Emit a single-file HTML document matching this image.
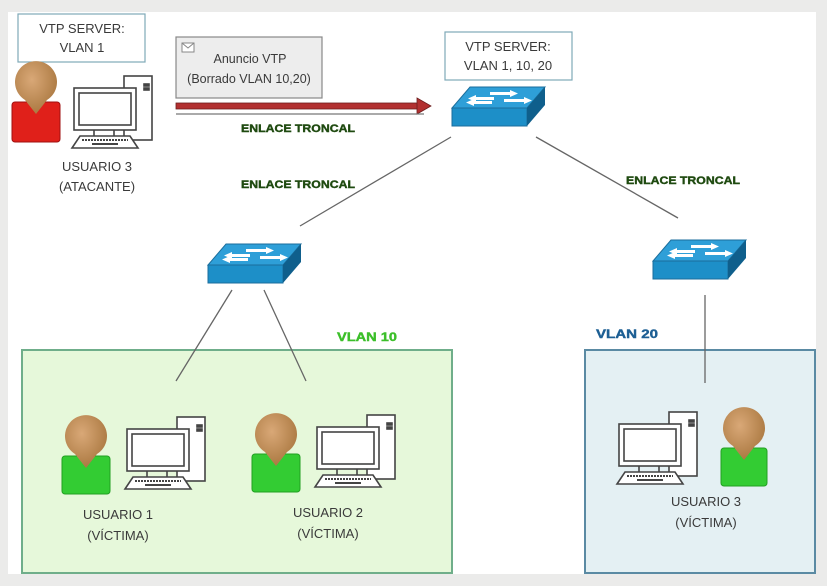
<!DOCTYPE html>
<html><head><meta charset="utf-8"><style>
html,body{margin:0;padding:0;background:#ebebea;}
svg{display:block;font-family:"Liberation Sans",sans-serif;}
.t{font-size:13px;fill:#3a3a3a;text-anchor:middle;}
.e{font-size:11px;font-weight:900;fill:#1f4a10;stroke:#1f4a10;stroke-width:0.4;}
</style></head><body>
<svg width="827" height="586" viewBox="0 0 827 586" xmlns="http://www.w3.org/2000/svg">
<defs>
<g id="pc" fill="#fff" stroke="#444" stroke-width="1.6">
<rect x="52" y="0" width="28" height="64"/>
<rect x="72" y="8" width="5" height="2" fill="#444"/>
<rect x="72" y="12" width="5" height="2" fill="#444"/>
<rect x="2" y="12" width="62" height="42"/>
<rect x="7" y="17" width="52" height="32"/>
<line x1="22" y1="54" x2="22" y2="60"/><line x1="42" y1="54" x2="42" y2="60"/>
<polygon points="8,60 58,60 66,72 0,72"/>
<line x1="10" y1="64" x2="56" y2="64" stroke-dasharray="2 1" stroke-width="2"/>
<line x1="20" y1="68" x2="46" y2="68" stroke-width="2"/>
</g>
<radialGradient id="hd" cx="0.4" cy="0.35" r="0.7"><stop offset="0" stop-color="#d9a877"/><stop offset="1" stop-color="#a8763e"/></radialGradient>
<g id="sw">
<polygon points="18,0 93,0 75,21 0,21" fill="#2e9fd8" stroke="#1b6e9c"/>
<polygon points="0,21 75,21 75,39 0,39" fill="#1d8fc8" stroke="#1b6e9c"/>
<polygon points="75,21 93,0 93,18 75,39" fill="#0f5f8c"/>
<g fill="#fff">
<polygon points="38,5 58,5 58,3 66,6.5 58,10 58,8 38,8"/>
<polygon points="52,12 72,12 72,10 80,13.5 72,17 72,15 52,15"/>
<polygon points="42,10 24,10 24,8 16,11.5 24,15 24,13 42,13"/>
<polygon points="52,17 34,17 34,15 26,18.5 34,22 34,20 52,20" transform="translate(-12,-3)"/>
</g>
</g>
</defs>
<rect x="8" y="12" width="808" height="562" fill="#fff"/>
<rect x="22" y="350" width="430" height="223" fill="#e6f8da" stroke="#6fae8a" stroke-width="2"/>
<rect x="585" y="350" width="230" height="223" fill="#e4f0f3" stroke="#5a8aa3" stroke-width="2"/>
<g stroke="#666" stroke-width="1.3">
<line x1="451" y1="137" x2="300" y2="226"/>
<line x1="536" y1="137" x2="678" y2="218"/>
<line x1="232" y1="290" x2="176" y2="381"/>
<line x1="264" y1="290" x2="306" y2="381"/>
<line x1="705" y1="295" x2="705" y2="383"/>
</g>
<rect x="18" y="14" width="127" height="48" fill="#fff" stroke="#7fa9b8" stroke-width="1.2"/>
<text class="t" x="82" y="33">VTP SERVER:</text>
<text class="t" x="82" y="52">VLAN 1</text>
<rect x="445" y="32" width="127" height="48" fill="#fff" stroke="#7fa9b8" stroke-width="1.2"/>
<text class="t" x="508" y="51">VTP SERVER:</text>
<text class="t" x="508" y="70">VLAN 1, 10, 20</text>
<rect x="176" y="37" width="146" height="61" fill="#ededed" stroke="#888" stroke-width="1.2"/>
<rect x="182" y="43" width="12" height="9" fill="#fff" stroke="#888"/>
<polyline points="182,43 188,48 194,43" fill="none" stroke="#888"/>
<text class="t" x="250" y="63" style="font-size:12.5px">Anuncio VTP</text>
<text class="t" x="249" y="83" style="font-size:12.5px">(Borrado VLAN 10,20)</text>
<rect x="176" y="103" width="242" height="6" fill="#b23030" stroke="#6e1e1e" stroke-width="0.8"/>
<polygon points="417,98 431,106 417,114" fill="#b23030" stroke="#6e1e1e" stroke-width="0.8"/>
<line x1="176" y1="114" x2="424" y2="114" stroke="#777" stroke-width="1.2"/>
<text class="e" x="241" y="132" textLength="114" lengthAdjust="spacingAndGlyphs">ENLACE TRONCAL</text>
<text class="e" x="241" y="188" textLength="114" lengthAdjust="spacingAndGlyphs">ENLACE TRONCAL</text>
<text class="e" x="626" y="184" textLength="114" lengthAdjust="spacingAndGlyphs">ENLACE TRONCAL</text>
<use href="#sw" x="452" y="87"/>
<use href="#sw" x="208" y="244"/>
<use href="#sw" x="653" y="240"/>
<g transform="translate(12,64)">
<rect x="0" y="38" width="48" height="40" rx="3" fill="#e0201a" stroke="#a01010"/>
<path d="M13,36 A21,21 0 1 1 35,36 L24,50 Z" fill="url(#hd)"/>
</g>
<use href="#pc" x="72" y="76"/>
<text class="t" x="97" y="171">USUARIO 3</text>
<text class="t" x="97" y="191">(ATACANTE)</text>
<g transform="translate(62,418)">
<rect x="0" y="38" width="48" height="38" rx="3" fill="#33cc33" stroke="#22a022"/>
<path d="M13,36 A21,21 0 1 1 35,36 L24,50 Z" fill="url(#hd)"/>
</g>
<use href="#pc" x="125" y="417"/>
<text class="t" x="118" y="519">USUARIO 1</text>
<text class="t" x="118" y="540">(VÍCTIMA)</text>
<g transform="translate(252,416)">
<rect x="0" y="38" width="48" height="38" rx="3" fill="#33cc33" stroke="#22a022"/>
<path d="M13,36 A21,21 0 1 1 35,36 L24,50 Z" fill="url(#hd)"/>
</g>
<use href="#pc" x="315" y="415"/>
<text class="t" x="328" y="517">USUARIO 2</text>
<text class="t" x="328" y="538">(VÍCTIMA)</text>
<text x="337" y="341" textLength="60" lengthAdjust="spacingAndGlyphs" style="font-size:12px;font-weight:900;fill:#3cbf2a;stroke:#3cbf2a;stroke-width:0.4">VLAN 10</text>
<text x="596" y="338" textLength="62" lengthAdjust="spacingAndGlyphs" style="font-size:12px;font-weight:900;fill:#1d5f94;stroke:#1d5f94;stroke-width:0.4">VLAN 20</text>
<g transform="translate(721,410)">
<rect x="0" y="38" width="46" height="38" rx="3" fill="#33cc33" stroke="#22a022"/>
<path d="M12,36 A21,21 0 1 1 34,36 L23,50 Z" fill="url(#hd)"/>
</g>
<use href="#pc" x="617" y="412"/>
<text class="t" x="706" y="506">USUARIO 3</text>
<text class="t" x="706" y="527">(VÍCTIMA)</text>
</svg>
</body></html>
